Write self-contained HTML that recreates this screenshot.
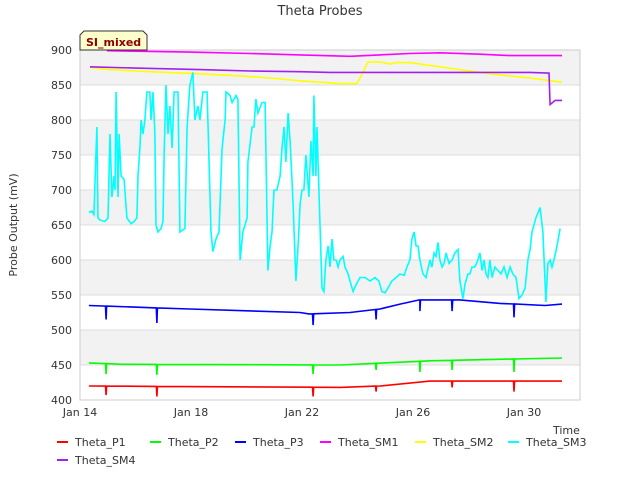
<!DOCTYPE html>
<html><head><meta charset="utf-8"><style>
body{margin:0;background:#fff;font-family:"DejaVu Sans","Liberation Sans",sans-serif;}
svg text{font-family:"DejaVu Sans","Liberation Sans",sans-serif;}
</style></head><body>
<svg id="c" width="640" height="480" viewBox="0 0 640 480" xmlns="http://www.w3.org/2000/svg">
<rect width="640" height="480" fill="#fff"/>
<text x="320" y="15" text-anchor="middle" font-size="13" fill="#333">Theta Probes</text>
<g id="bands"></g><g id="grid"></g>
<rect x="80" y="50" width="500" height="350" fill="none" stroke="#ccc"/>
<g id="ticks"></g>
<g id="series"></g>
<text transform="translate(17,225) rotate(-90)" text-anchor="middle" font-size="11" fill="#333">Probe Output (mV)</text>
<text x="553" y="434" font-size="11" fill="#333">Time</text>
<g>
<path d="M80,35 L84,31 L143,31 L147,35 L147,50 L80,50 Z" fill="#ffffcc" stroke="#333"/>
<text x="86" y="46" font-size="11" font-weight="bold" fill="#8b0000">SI_mixed</text>
</g>
<g id="legend"></g>
</svg>
<script>
const yTicks=[400,450,500,550,600,650,700,750,800,850,900];
const xTickDays=[0,4,8,12,16];
const xTickLabels=["Jan 14","Jan 18","Jan 22","Jan 26","Jan 30"];
const seriesNames=["Theta_P1","Theta_P2","Theta_P3","Theta_SM1","Theta_SM2","Theta_SM3","Theta_SM4"];
const seriesColors=["#ff0000","#00ff00","#0000ff","#ff00ff","#ffff00","#00ffff","#a020f0"];
const p1Days=[0.32,9.37,10.81,12.61,17.37];
const p1Vals=[420,418,420,427,427];
const p1DipDays=[0.94,2.77,8.40,10.67,13.41,15.64];
const p1DipVals=[407,405,405,412,418,412];
const p2Days=[0.32,1.5,9.37,12.61,17.37];
const p2Vals=[453,451,450,456,460];
const p2DipDays=[0.94,2.77,8.40,10.67,12.25,13.41,15.64];
const p2DipVals=[437,436,437,443,440,443,440];
const p3Days=[0.32,3.96,7.93,8.25,9.73,10.81,11.53,12.25,13.69,15.14,16.76,17.37];
const p3Vals=[535,530,525,523,525,530,537,543,543,538,535,537];
const p3DipDays=[0.94,2.77,8.40,10.67,12.25,13.41,15.64];
const p3DipVals=[515,510,507,515,527,527,518];
const sm1Days=[0.97,3.96,6.13,7.93,9.73,10.81,11.89,12.97,14.41,15.50,17.37];
const sm1Vals=[899,897,895,893,891,893,895,896,894,892,892];
const sm4Days=[0.36,2.16,4.32,6.13,7.93,9.01,16.22,16.86,16.90,16.94,17.12,17.37];
const sm4Vals=[876,874,872,870,869,868,868,867,867,822,828,828];
const sm2Days=[0.36,1.08,2.52,4.32,5.77,6.85,7.93,8.65,9.37,9.98,10.16,10.38,10.81,11.17,11.39,11.89,12.61,13.33,14.05,14.77,15.50,16.22,16.76,17.37];
const sm2Vals=[875,872,869,866,863,860,856,854,852,852,865,883,883,880,882,882,878,874,870,866,863,860,857,854];
const sm3Days=[0.32,.43,.50,.61,.65,.72,.90,1.01,1.08,1.15,1.23,1.26,1.30,1.37,1.41,1.48,1.59,1.69,1.84,1.95,2.05,2.09,2.16,2.20,2.27,2.34,2.41,2.52,2.56,2.63,2.70,2.74,2.81,2.92,2.99,3.03,3.10,3.17,3.24,3.32,3.39,3.53,3.60,3.78,3.86,3.96,4.07,4.14,4.25,4.32,4.43,4.58,4.72,4.79,4.90,5.01,5.12,5.23,5.26,5.41,5.48,5.62,5.69,5.77,5.87,6.02,6.05,6.20,6.27,6.34,6.41,6.56,6.67,6.77,6.85,6.92,6.99,7.10,7.21,7.28,7.35,7.42,7.50,7.57,7.68,7.78,7.86,7.93,8.00,8.07,8.14,8.25,8.32,8.40,8.43,8.50,8.54,8.61,8.72,8.79,8.86,8.94,9.01,9.08,9.15,9.23,9.30,9.37,9.48,9.55,9.66,9.73,9.84,9.95,10.09,10.27,10.45,10.63,10.77,10.88,10.99,11.10,11.24,11.39,11.53,11.68,11.78,11.89,11.96,12.04,12.11,12.18,12.25,12.36,12.47,12.61,12.68,12.76,12.83,12.90,12.97,13.05,13.12,13.19,13.30,13.41,13.51,13.62,13.69,13.80,13.87,13.98,14.05,14.13,14.23,14.34,14.41,14.49,14.56,14.63,14.70,14.77,14.85,14.95,15.06,15.17,15.28,15.39,15.50,15.60,15.71,15.82,15.93,16.04,16.14,16.22,16.29,16.43,16.58,16.68,16.79,16.86,16.94,17.01,17.08,17.19,17.30];
const sm3Vals=[668,670,665,790,660,657,655,660,780,690,720,700,840,690,780,720,715,660,652,655,660,720,760,800,780,800,840,840,800,840,780,650,640,645,655,750,850,780,820,760,840,840,640,645,790,850,868,800,820,800,840,840,640,612,630,640,760,800,840,835,825,835,830,600,640,660,740,790,790,830,810,825,825,585,620,640,700,700,720,760,790,740,810,770,680,570,620,680,700,700,750,690,770,720,835,720,790,700,560,555,600,620,590,630,600,600,590,600,605,590,580,570,555,565,575,575,570,575,570,555,553,560,570,575,580,578,590,600,630,640,620,620,600,580,575,600,590,610,605,625,600,590,595,610,595,600,610,615,570,545,565,580,580,590,590,600,610,585,600,580,575,600,575,590,585,580,590,575,590,580,575,545,550,560,600,615,640,660,675,640,540,595,600,590,600,620,645];

const NS="http://www.w3.org/2000/svg";
const X=d=>80+d*27.75, Y=v=>50+(900-v)*0.7;
function mk(tag,attrs,parent){const e=document.createElementNS(NS,tag);for(const k in attrs)e.setAttribute(k,attrs[k]);parent.appendChild(e);return e;}
const bands=document.getElementById('bands'),grid=document.getElementById('grid'),ticks=document.getElementById('ticks');
for(let i=0;i<yTicks.length-1;i++){
  if(i%2===1){const r=mk('rect',{x:80,y:Y(yTicks[i+1]),width:500,height:Y(yTicks[i])-Y(yTicks[i+1]),fill:'#f2f2f2'},bands);
  
  }
}
yTicks.forEach(v=>{
  const l=mk('line',{x1:80,x2:580,y1:Y(v),y2:Y(v),stroke:'#ddd'},grid);
  
  
  const t=mk('text',{x:72,y:Y(v)+4,'text-anchor':'end','font-size':11,fill:'#333'},ticks);t.textContent=v;
  
  
});
xTickDays.forEach((d,i)=>{
  const t=mk('text',{x:X(d),y:416,'text-anchor':'middle','font-size':11,fill:'#333'},ticks);t.textContent=xTickLabels[i];
  
  
});
function withDips(days,vals,dd,dv){
  let pts=days.map((d,i)=>[d,vals[i]]);
  const base=d=>{for(let i=0;i<days.length-1;i++){if(d>=days[i]&&d<=days[i+1]){const f=(d-days[i])/(days[i+1]-days[i]);return vals[i]+f*(vals[i+1]-vals[i]);}}return vals[vals.length-1];};
  dd.forEach((d,i)=>{const b=base(d);pts.push([d-0.02,b],[d,dv[i]],[d+0.02,b]);});
  return pts.sort((a,b)=>a[0]-b[0]);
}
const all=[
 withDips(p1Days,p1Vals,p1DipDays,p1DipVals),
 withDips(p2Days,p2Vals,p2DipDays,p2DipVals),
 withDips(p3Days,p3Vals,p3DipDays,p3DipVals),
 sm1Days.map((d,i)=>[d,sm1Vals[i]]),
 sm2Days.map((d,i)=>[d,sm2Vals[i]]),
 sm3Days.map((d,i)=>[d,sm3Vals[i]]),
 sm4Days.map((d,i)=>[d,sm4Vals[i]])
];
const sg=document.getElementById('series');
all.forEach((pts,i)=>{
  const p=mk('polyline',{points:pts.map(q=>X(q[0]).toFixed(1)+','+Y(q[1]).toFixed(1)).join(' '),fill:'none',stroke:seriesColors[i],'stroke-width':1.6},sg);
  
  
});
const lg=document.getElementById('legend');
const lx=[57,150,235,320,415,508,57], ly=[442,442,442,442,442,442,460];
seriesNames.forEach((n,i)=>{
  const g=mk('g',{},lg);
  
  
  mk('line',{x1:lx[i],x2:lx[i]+11,y1:ly[i],y2:ly[i],stroke:seriesColors[i],'stroke-width':2},g);
  const t=mk('text',{x:lx[i]+18,y:ly[i]+4,'font-size':11,fill:'#333'},g);t.textContent=n;
});
</script>
</body></html>
